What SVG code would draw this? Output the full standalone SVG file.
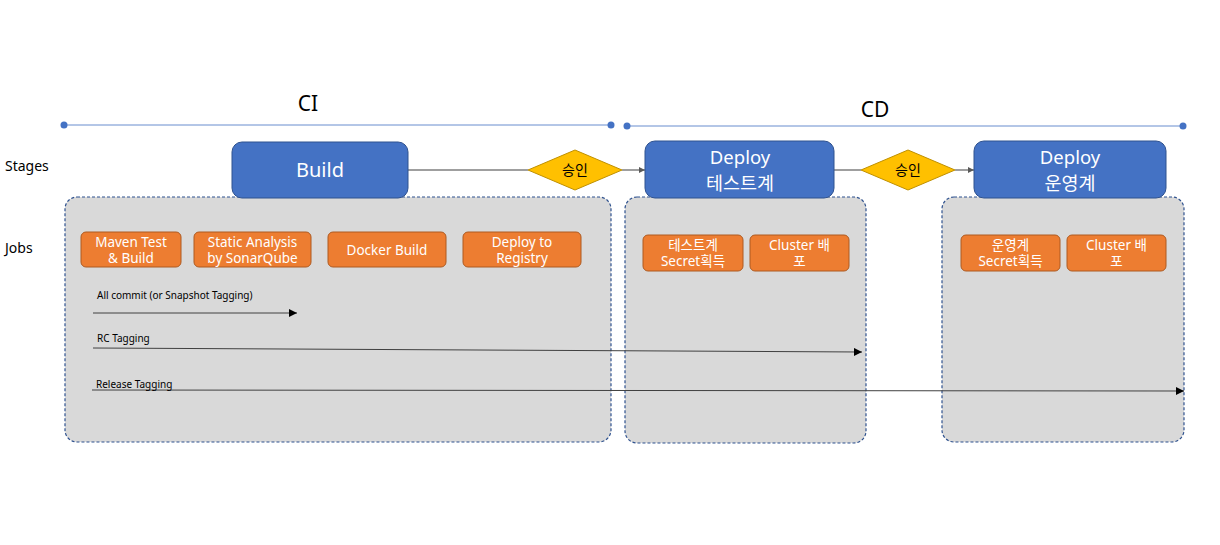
<svg xmlns="http://www.w3.org/2000/svg" width="1220" height="545" viewBox="0 0 1220 545">
<defs>
<style>
text{font-family:"Noto Sans","Noto Sans CJK KR",sans-serif}
.hdr{font-size:21px;fill:#000}
.side{font-size:14px;fill:#000}
.tl{stroke:#4472C4;stroke-width:1;opacity:.8}
.dot{fill:#4472C4}
.cont{fill:#D9D9D9;stroke:#2F528F;stroke-width:1.2;stroke-dasharray:3 2}
.stage{fill:#4472C4;stroke:#2F528F;stroke-width:1}
.stt{font-size:20px;fill:#fff;text-anchor:middle}
.st2{font-size:18.5px;fill:#fff;text-anchor:middle}
.gate{fill:#FFC000;stroke:#BF9000;stroke-width:1}
.gt{font-size:14px;fill:#000;text-anchor:middle}
.job{fill:#ED7D31;stroke:#AE5A21;stroke-width:1}
.jt{font-size:13.5px;fill:#fff;text-anchor:middle}
.flow{stroke:#7F7F7F;stroke-width:1.5;fill:none}
.tag{stroke:#404040;stroke-width:1;fill:none}
.tt{font-size:10px;fill:#000}
</style>
<marker id="ag" viewBox="0 0 10 10" refX="10" refY="5" markerWidth="6" markerHeight="6" orient="auto" markerUnits="userSpaceOnUse"><path d="M0,0L10,5L0,10z" fill="#595959"/></marker>
<marker id="ab" viewBox="0 0 10 10" refX="10" refY="5" markerWidth="9" markerHeight="8" orient="auto" markerUnits="userSpaceOnUse"><path d="M0,0L10,5L0,10z" fill="#000"/></marker>
</defs>
<rect width="1220" height="545" fill="#fff"/>

<g id="timeline">
<text class="hdr" x="308" y="111" text-anchor="middle">CI</text>
<line class="tl" x1="64" y1="125" x2="611" y2="125"/>
<circle class="dot" cx="64" cy="125" r="3.5"/>
<circle class="dot" cx="611" cy="125" r="3.5"/>
<text class="hdr" x="875" y="117" text-anchor="middle">CD</text>
<line class="tl" x1="627" y1="126" x2="1183" y2="126"/>
<circle class="dot" cx="627" cy="126" r="3.5"/>
<circle class="dot" cx="1183" cy="126" r="3.5"/>
</g>

<g id="labels">
<text class="side" x="5" y="171">Stages</text>
<text class="side" x="5" y="253">Jobs</text>
</g>

<g id="ci-jobs">
<rect class="cont" x="65" y="197" width="546" height="245" rx="12"/>
</g>
<g id="test-jobs">
<rect class="cont" x="625" y="197" width="241" height="246" rx="12"/>
</g>
<g id="prod-jobs">
<rect class="cont" x="942" y="197" width="242" height="245" rx="12"/>
</g>

<g id="connectors">
<line class="flow" x1="408" y1="170" x2="528" y2="170"/>
<line class="flow" x1="622" y1="170" x2="645" y2="170" marker-end="url(#ag)"/>
<line class="flow" x1="834" y1="170" x2="861" y2="170"/>
<line class="flow" x1="955" y1="170" x2="974" y2="170" marker-end="url(#ag)"/>
<line class="tag" x1="93" y1="313" x2="297" y2="313" marker-end="url(#ab)"/>
<line class="tag" x1="93" y1="348" x2="862" y2="352" marker-end="url(#ab)"/>
<line class="tag" x1="92" y1="390" x2="1184" y2="391" marker-end="url(#ab)"/>
</g>

<g id="tag-labels">
<text class="tt" x="97" y="299">All commit (or Snapshot Tagging)</text>
<text class="tt" x="97" y="342">RC Tagging</text>
<text class="tt" x="96" y="388">Release Tagging</text>
</g>

<g id="build">
<rect class="stage" x="232" y="142" width="176" height="56" rx="10"/>
<text class="stt" x="320" y="177">Build</text>
</g>
<g id="gate1">
<polygon class="gate" points="528,170 575,150 622,170 575,190"/>
<text class="gt" x="575" y="175">승인</text>
</g>
<g id="deploy-test">
<rect class="stage" x="645" y="141" width="189" height="57" rx="10"/>
<text class="st2" x="740" y="164">Deploy</text>
<text class="st2" x="740" y="190">테스트계</text>
</g>
<g id="gate2">
<polygon class="gate" points="861,170 908,150 955,170 908,190"/>
<text class="gt" x="908" y="175">승인</text>
</g>
<g id="deploy-prod">
<rect class="stage" x="974" y="141" width="192" height="57" rx="10"/>
<text class="st2" x="1070" y="164">Deploy</text>
<text class="st2" x="1070" y="190">운영계</text>
</g>

<g id="job-maven">
<rect class="job" x="81" y="232" width="100" height="35" rx="5"/>
<text class="jt" x="131" y="247">Maven Test</text>
<text class="jt" x="131" y="263">&amp; Build</text>
</g>
<g id="job-sonar">
<rect class="job" x="194" y="232" width="117" height="35" rx="5"/>
<text class="jt" x="252.5" y="247">Static Analysis</text>
<text class="jt" x="252.5" y="263">by SonarQube</text>
</g>
<g id="job-docker">
<rect class="job" x="328" y="232" width="118" height="35" rx="5"/>
<text class="jt" x="387" y="255">Docker Build</text>
</g>
<g id="job-registry">
<rect class="job" x="463" y="232" width="118" height="35" rx="5"/>
<text class="jt" x="522" y="247">Deploy to</text>
<text class="jt" x="522" y="263">Registry</text>
</g>
<g id="job-test-secret">
<rect class="job" x="643" y="235" width="100" height="36" rx="5"/>
<text class="jt" x="693" y="250">테스트계</text>
<text class="jt" x="693" y="266">Secret획득</text>
</g>
<g id="job-test-cluster">
<rect class="job" x="750" y="235" width="99" height="36" rx="5"/>
<text class="jt" x="799.5" y="250">Cluster 배</text>
<text class="jt" x="799.5" y="266">포</text>
</g>
<g id="job-prod-secret">
<rect class="job" x="961" y="235" width="99" height="36" rx="5"/>
<text class="jt" x="1010.5" y="250">운영계</text>
<text class="jt" x="1010.5" y="266">Secret획득</text>
</g>
<g id="job-prod-cluster">
<rect class="job" x="1067" y="235" width="99" height="36" rx="5"/>
<text class="jt" x="1116.5" y="250">Cluster 배</text>
<text class="jt" x="1116.5" y="266">포</text>
</g>
</svg>
